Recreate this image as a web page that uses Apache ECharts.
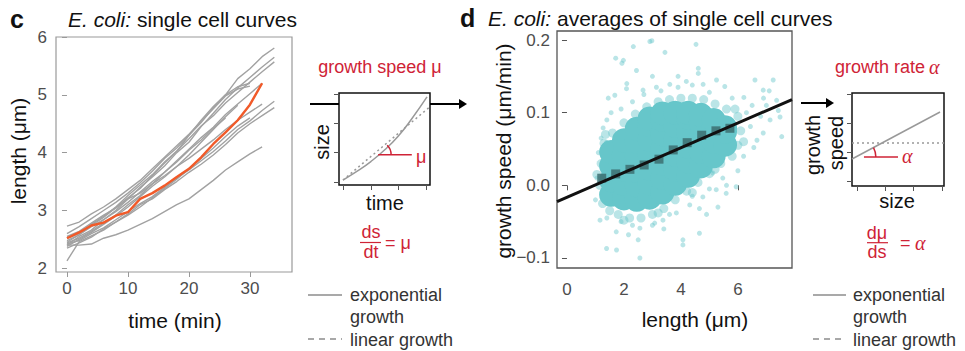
<!DOCTYPE html>
<html>
<head>
<meta charset="utf-8">
<script src="https://cdn.jsdelivr.net/npm/echarts@6/dist/echarts.min.js"></script>
<style>
html,body{margin:0;padding:0;background:#fff;}
#chart{width:965px;height:351px;}
</style>
</head>
<body>
<div id="chart"></div>
<script>
// panel c: single cell length curves, sampled every 2 min
var cellTimes = [0, 2, 4, 6, 8, 10, 12, 14, 16, 18, 20, 22, 24, 26, 28, 30, 32, 34];
var cellLengths = [
    [2.45, 2.58, 2.74, 2.88, 3.05, 3.22, 3.38, 3.60, 3.82, 4.02, 4.30, 4.52, 4.78, 5.00, 5.28, 5.45, 5.66, 5.81],
    [2.40, 2.55, 2.66, 2.84, 3.00, 3.20, 3.40, 3.58, 3.77, 4.00, 4.18, 4.45, 4.68, 4.92, 5.12, 5.30, 5.48, 5.65],
    [2.52, 2.60, 2.76, 2.90, 3.06, 3.26, 3.44, 3.62, 3.84, 4.03, 4.24, 4.46, 4.64, 4.86, 5.04, 5.22, 5.40, 5.57],
    [2.73, 2.80, 2.94, 3.06, 3.20, 3.36, 3.52, 3.72, 3.92, 4.12, 4.32, 4.54, 4.76, 4.98, 5.10, 5.15],
    [2.42, 2.48, 2.60, 2.70, 2.84, 2.98, 3.12, 3.24, 3.40, 3.56, 3.70, 3.86, 4.02, 4.20, 4.40, 4.55, 4.73, 4.89],
    [2.35, 2.44, 2.54, 2.68, 2.80, 2.94, 3.10, 3.20, 3.36, 3.50, 3.66, 3.80, 3.96, 4.14, 4.34, 4.50, 4.64, 4.78],
    [2.55, 2.64, 2.78, 2.92, 3.04, 3.20, 3.30, 3.46, 3.60, 3.76, 3.90, 4.06, 4.22, 4.40, 4.56, 4.70, 4.84],
    [2.40, 2.40, 2.42, 2.52, 2.58, 2.66, 2.76, 2.86, 2.98, 3.10, 3.20, 3.36, 3.52, 3.70, 3.84, 3.98, 4.10],
    [2.13, 2.46, 2.56, 2.66, 2.80, 2.92, 3.06, 3.22, 3.38, 3.54, 3.72, 3.90, 4.08, 4.28, 4.46, 4.60],
    [2.60, 2.72, 2.86, 3.00, 3.14, 3.30, 3.48, 3.68, 3.90, 4.08, 4.30, 4.56, 4.80, 5.00, 5.14, 5.20],
    [2.48, 2.58, 2.72, 2.84, 2.98, 3.14, 3.32, 3.50, 3.66, 3.86, 4.06, 4.26, 4.44, 4.66, 4.84, 5.02, 5.20],
    [2.38, 2.50, 2.62, 2.76, 2.90, 3.06, 3.24, 3.42, 3.58, 3.76, 3.96, 4.18, 4.40, 4.62, 4.82],
    [2.44, 2.52, 2.64, 2.78, 2.92, 3.10, 3.26, 3.46, 3.66, 3.84, 4.04, 4.22, 4.42, 4.60]
];
var highlightCell = [2.52, 2.62, 2.74, 2.79, 2.91, 2.97, 3.20, 3.30, 3.43, 3.58, 3.72, 3.92, 4.15, 4.35, 4.56, 4.83, 5.20];
var cTimeTicks = [0, 10, 20, 30];
var cLengthTicks = [2, 3, 4, 5, 6];

// panel d: growth speed vs length cloud
var cloudCore = [
    [1.55, -0.013], [1.55, 0.007], [1.55, 0.027], [1.55, 0.046],
    [2.0, -0.018], [2.0, 0.002], [2.0, 0.022], [2.0, 0.042], [2.0, 0.062],
    [2.45, -0.02], [2.45, 0.0], [2.45, 0.02], [2.45, 0.04], [2.45, 0.06], [2.45, 0.078],
    [2.9, -0.017], [2.9, 0.003], [2.9, 0.023], [2.9, 0.043], [2.9, 0.063], [2.9, 0.083], [2.9, 0.092],
    [3.35, -0.01], [3.35, 0.01], [3.35, 0.03], [3.35, 0.05], [3.35, 0.07], [3.35, 0.09], [3.35, 0.099],
    [3.8, 0.002], [3.8, 0.022], [3.8, 0.042], [3.8, 0.062], [3.8, 0.082], [3.8, 0.1],
    [4.25, 0.013], [4.25, 0.033], [4.25, 0.053], [4.25, 0.073], [4.25, 0.093], [4.25, 0.1],
    [4.7, 0.026], [4.7, 0.046], [4.7, 0.066], [4.7, 0.086], [4.7, 0.097],
    [5.15, 0.04], [5.15, 0.06], [5.15, 0.08], [5.15, 0.09],
    [5.55, 0.056], [5.55, 0.074], [5.55, 0.08]
];
var cloudHalo = [
    [1.2, 0.03], [1.15, 0.0], [1.25, -0.025], [1.5, -0.035], [1.8, -0.04], [2.2, -0.045], [2.6, -0.045],
    [3.0, -0.04], [3.4, -0.032], [3.8, -0.02], [4.2, -0.008], [4.6, 0.004], [5.0, 0.016], [5.4, 0.03],
    [5.8, 0.04], [6.0, 0.055], [6.1, 0.075], [6.0, 0.095], [5.6, 0.105], [5.2, 0.112], [4.8, 0.118],
    [4.4, 0.12], [4.0, 0.12], [3.6, 0.118], [3.2, 0.115], [2.8, 0.108], [2.4, 0.098], [2.0, 0.086],
    [1.6, 0.072], [1.3, 0.058], [1.05, 0.015], [1.35, 0.07], [6.2, 0.06], [5.9, 0.105], [2.0, -0.048],
    [3.2, -0.038], [4.4, -0.01], [5.2, 0.022]
];
var cloudOutliers = [
    [2.91, 0.198], [2.98, 0.199], [2.33, 0.191], [4.53, 0.194], [3.44, 0.183], [1.71, 0.175], [1.98, 0.172],
    [1.93, 0.168], [2.44, 0.158], [4.61, 0.161], [4.61, 0.154], [1.45, 0.12], [1.68, 0.124], [2.09, 0.133],
    [2.67, 0.131], [3.14, 0.135], [3.61, 0.139], [4.19, 0.143], [4.78, 0.139], [5.25, 0.145], [5.54, 0.136],
    [6.6, 0.145], [7.24, 0.145], [6.89, 0.131], [7.36, 0.117], [7.42, 0.103], [7.48, 0.094], [7.13, 0.09],
    [7.54, 0.067], [6.89, 0.072], [1.27, 0.079], [1.39, 0.059], [1.16, -0.048], [1.39, -0.087], [1.74, -0.089],
    [2.56, -0.1], [1.73, -0.064], [2.16, -0.068], [2.56, -0.059], [3.08, -0.052], [3.37, -0.048], [4.07, -0.075],
    [4.07, -0.082], [4.65, -0.066], [3.84, -0.038], [4.31, -0.027], [4.65, -0.032], [4.77, -0.016], [5.24, -0.006],
    [5.59, -0.011], [5.94, -0.002], [5.47, 0.01], [5.12, 0.017], [6.44, 0.081], [6.67, 0.062], [6.56, 0.052],
    [6.21, 0.121], [1.05, 0.01], [1.0, -0.02], [1.1, 0.045], [1.2, 0.065], [1.4, 0.09], [1.9, 0.105], [2.3, 0.115],
    [2.7, 0.125], [3.3, 0.13], [3.9, 0.135], [4.4, 0.138], [5.0, 0.128], [5.8, 0.12], [6.3, 0.1], [6.5, 0.11],
    [6.8, 0.095], [7.0, 0.11], [6.2, 0.04], [6.0, 0.02], [5.6, 0.0], [5.0, -0.005], [4.4, -0.015], [3.6, -0.04],
    [3.0, -0.055], [2.3, -0.055], [1.9, -0.05], [1.4, -0.045], [6.9, 0.12], [7.1, 0.13], [1.55, 0.1], [2.1, 0.14],
    [3.0, 0.15], [3.9, 0.15], [2.5, -0.075], [3.4, -0.06], [4.9, -0.04], [5.3, -0.03]
];
var binLength = [1.22, 1.71, 2.21, 2.71, 3.23, 3.73, 4.22, 4.73, 5.23, 5.72];
var binSpeed = [0.0098, 0.0157, 0.022, 0.028, 0.036, 0.0487, 0.0587, 0.069, 0.075, 0.0785];
var fitLine = [[-0.35, -0.0223], [7.9, 0.118]];
var dLengthTicks = [0, 2, 4, 6];
var dSpeedTicks = [-0.1, 0, 0.1, 0.2];

// schematics (arbitrary units 0..1)
var speedSchemX = [0.044, 0.2, 0.35, 0.5, 0.65, 0.8, 0.967];
var speedSchemExp = [0.054, 0.15, 0.255, 0.38, 0.53, 0.72, 0.957];
var speedSchemLin = [[0.044, 0.054], [1.0, 0.851]];
var speedTangent = [[0.43, 0.33], [0.8, 0.33]];
var speedTicksX = [0.044, 0.352, 0.648, 0.956];
var speedTicksY = [0.033, 0.36, 0.674, 0.99];
var rateSolid = [[0, 0.29], [0.957, 0.796]];
var rateDotted = [[0, 0.462], [1, 0.462]];
var rateTangent = [[0.13, 0.312], [0.5, 0.312]];
var rateTicksX = [0.054, 0.359, 0.663, 0.978];
var rateTicksY = [0.054, 0.366, 0.677, 0.989];

var FONT = '"Liberation Sans", Arial, sans-serif';
var SERIF = '"Liberation Serif", serif';
var RED = '#cf2336';
var TEAL = '#66c6ca';

var chart = echarts.init(document.getElementById('chart'), null, {renderer: 'svg'});

function pairs(vals) {
    return vals.map(function (v, i) { return [cellTimes[i], v]; });
}

function axis(gi, min, max, ticks, tickColor, labels, margin, fmt) {
    return {
        gridIndex: gi, type: 'value', min: min, max: max,
        axisLine: {show: false}, splitLine: {show: false},
        axisTick: {show: true, length: 5, customValues: ticks, lineStyle: {color: tickColor, width: 1}},
        axisLabel: {
            show: labels, customValues: ticks, color: '#4d4d4d', fontSize: 17, fontFamily: FONT,
            margin: margin, formatter: fmt
        }
    };
}

function speedFmt(v) {
    var s = Math.abs(v).toFixed(1);
    return v < -1e-9 ? '\u2212' + s : s;
}

var series = [];
cellLengths.forEach(function (c) {
    series.push({type: 'line', xAxisIndex: 0, yAxisIndex: 0, data: pairs(c), symbol: 'none',
        lineStyle: {color: '#a2a2a2', width: 1.4}});
});
series.push({type: 'line', xAxisIndex: 0, yAxisIndex: 0, data: pairs(highlightCell), symbol: 'none',
    lineStyle: {color: '#f15a29', width: 2.4}});

// schematic 1
series.push({type: 'line', xAxisIndex: 1, yAxisIndex: 1, smooth: true, symbol: 'none',
    data: speedSchemX.map(function (x, i) { return [x, speedSchemExp[i]]; }),
    lineStyle: {color: '#999', width: 1.5}});
series.push({type: 'line', xAxisIndex: 1, yAxisIndex: 1, symbol: 'none', data: speedSchemLin,
    lineStyle: {color: '#999', width: 1.5, type: [2, 3]}});
series.push({type: 'line', xAxisIndex: 1, yAxisIndex: 1, symbol: 'none', data: speedTangent,
    lineStyle: {color: RED, width: 1.5}});

// panel d
series.push({type: 'scatter', xAxisIndex: 2, yAxisIndex: 2, data: cloudOutliers, symbolSize: 5,
    itemStyle: {color: TEAL, opacity: 0.45}});
series.push({type: 'scatter', xAxisIndex: 2, yAxisIndex: 2, data: cloudHalo, symbolSize: 9,
    itemStyle: {color: TEAL, opacity: 0.45}});
series.push({type: 'scatter', xAxisIndex: 2, yAxisIndex: 2, data: cloudCore, symbolSize: 24,
    itemStyle: {color: TEAL, opacity: 1}});
series.push({type: 'line', xAxisIndex: 2, yAxisIndex: 2, data: fitLine, symbol: 'none',
    lineStyle: {color: '#111', width: 3}});
series.push({type: 'scatter', xAxisIndex: 2, yAxisIndex: 2, symbol: 'rect', symbolSize: 9,
    data: binLength.map(function (x, i) { return [x, binSpeed[i]]; }),
    itemStyle: {color: '#3c6f71', opacity: 0.85}});

// schematic 2
series.push({type: 'line', xAxisIndex: 3, yAxisIndex: 3, symbol: 'none', data: rateSolid,
    lineStyle: {color: '#999', width: 1.5}});
series.push({type: 'line', xAxisIndex: 3, yAxisIndex: 3, symbol: 'none', data: rateDotted,
    lineStyle: {color: '#999', width: 1.5, type: [2, 3]}});
series.push({type: 'line', xAxisIndex: 3, yAxisIndex: 3, symbol: 'none', data: rateTangent,
    lineStyle: {color: RED, width: 1.5}});

function txt(text, x, y, size, opt) {
    opt = opt || {};
    return {
        type: 'text', x: x, y: y, rotation: opt.rot || 0, z: 100,
        style: {
            text: text, fill: opt.color || '#111',
            font: (opt.style || 'normal') + ' ' + (opt.weight || 'normal') + ' ' + size + 'px ' + (opt.family || FONT),
            textAlign: opt.align || 'center', textVerticalAlign: 'middle'
        }
    };
}
function seg(x1, y1, x2, y2, color, width, dash) {
    return {type: 'line', z: 100, shape: {x1: x1, y1: y1, x2: x2, y2: y2},
        style: {stroke: color, lineWidth: width, lineDash: dash || null}};
}
function head(x, y) {
    return {type: 'polygon', z: 100, shape: {points: [[x - 8, y - 5], [x, y], [x - 8, y + 5]]},
        style: {fill: '#000'}};
}

var R = Math.PI / 2;

var graphics = [
    txt('c', 10, 19, 25, {weight: 'bold', align: 'left'}),
    txt('E. coli:', 68, 19, 21, {align: 'left', style: 'italic'}),
    txt('single cell curves', 137, 19, 21, {align: 'left'}),
    txt('length (\u03bcm)', 18, 151, 21, {rot: R}),
    txt('time (min)', 175, 320, 21),

    txt('growth speed \u03bc', 380, 67, 18, {color: RED}),
    txt('size', 322, 142, 20, {rot: R}),
    txt('time', 385, 203, 20),
    txt('\u03bc', 416, 157, 18, {color: RED, align: 'left'}),
    txt('ds', 371, 232, 18, {color: RED}),
    seg(360, 242.5, 381, 242.5, RED, 1.2),
    txt('dt', 371, 252, 18, {color: RED}),
    txt('= \u03bc', 385, 243, 18, {color: RED, align: 'left'}),
    seg(310, 104, 339, 104, '#000', 2),
    seg(430, 104, 462, 104, '#000', 2),
    head(467, 104),

    seg(308, 295, 342, 295, '#8c8c8c', 1.5),
    txt('exponential', 350, 295, 18, {align: 'left', color: '#333'}),
    txt('growth', 350, 317, 18, {align: 'left', color: '#333'}),
    seg(308, 339, 342, 339, '#8c8c8c', 1.5, [6, 5]),
    txt('linear growth', 350, 340, 18, {align: 'left', color: '#333'}),

    txt('d', 460, 18, 25, {weight: 'bold', align: 'left'}),
    txt('E. coli:', 488, 18, 21, {align: 'left', style: 'italic'}),
    txt('averages of single cell curves', 557, 18, 21, {align: 'left'}),
    txt('growth speed (\u03bcm/min)', 503, 151, 21, {rot: R}),
    txt('length (\u03bcm)', 695, 319, 21),

    txt('growth rate', 835, 67, 18, {color: RED, align: 'left'}),
    txt('\u03b1', 929, 67, 20, {color: RED, align: 'left', family: SERIF, style: 'italic'}),
    txt('growth', 813, 145, 20, {rot: R}),
    txt('speed', 836, 143, 20, {rot: R}),
    seg(801, 103, 828, 103, '#000', 2),
    head(834, 103),
    txt('size', 897, 201, 20),
    txt('\u03b1', 902, 156, 20, {color: RED, align: 'left', family: SERIF, style: 'italic'}),
    txt('d\u03bc', 877, 233, 18, {color: RED}),
    seg(867, 242.7, 888, 242.7, RED, 1.2),
    txt('ds', 877, 252, 18, {color: RED}),
    txt('=', 900, 243, 18, {color: RED, align: 'left'}),
    txt('\u03b1', 915, 243, 20, {color: RED, align: 'left', family: SERIF, style: 'italic'}),

    seg(813, 295, 846, 295, '#8c8c8c', 1.5),
    txt('exponential', 853, 295, 18, {align: 'left', color: '#333'}),
    txt('growth', 853, 317, 18, {align: 'left', color: '#333'}),
    seg(813, 339, 846, 339, '#8c8c8c', 1.5, [6, 5]),
    txt('linear growth', 853, 340, 18, {align: 'left', color: '#333'})
];

var option = {
    animation: false,
    backgroundColor: '#fff',
    grid: [
        {left: 56, top: 37, width: 236, height: 235, show: true, borderColor: '#9a9a9a', borderWidth: 1.2, backgroundColor: '#fff'},
        {left: 339, top: 93, width: 91, height: 92, show: true, borderColor: '#111', borderWidth: 1.5, backgroundColor: '#fff'},
        {left: 557, top: 31, width: 235, height: 237, show: true, borderColor: '#555', borderWidth: 1.3, backgroundColor: '#fff'},
        {left: 852, top: 93, width: 92, height: 93, show: true, borderColor: '#111', borderWidth: 1.5, backgroundColor: '#fff'}
    ],
    xAxis: [
        axis(0, -1.8, 36.9, cTimeTicks, '#999', true, 8),
        axis(1, 0, 1, speedTicksX, '#555', false, 8),
        axis(2, -0.35, 7.9, dLengthTicks, '#555', true, 13),
        axis(3, 0, 1, rateTicksX, '#555', false, 8)
    ],
    yAxis: [
        axis(0, 1.936, 6.0, cLengthTicks, '#999', true, 9),
        axis(1, 0, 1, speedTicksY, '#555', false, 8),
        axis(2, -0.1138, 0.2124, dSpeedTicks, '#555', true, 7, speedFmt),
        axis(3, 0, 1, rateTicksY, '#555', false, 8)
    ],
    series: series,
    graphic: graphics
};
chart.setOption(option);

// angle arcs at the tangent points, placed with the schematic scales
var p1 = chart.convertToPixel({gridIndex: 1}, speedTangent[0]);
var p2 = chart.convertToPixel({gridIndex: 3}, [0.042, rateTangent[0][1]]);
graphics.push({type: 'arc', z: 100, shape: {cx: p1[0], cy: p1[1], r: 13, startAngle: -0.8, endAngle: 0, clockwise: true},
    style: {stroke: RED, lineWidth: 1.5, fill: null}});
graphics.push({type: 'arc', z: 100, shape: {cx: p2[0], cy: p2[1], r: 20, startAngle: -0.49, endAngle: 0, clockwise: true},
    style: {stroke: RED, lineWidth: 1.5, fill: null}});
chart.setOption({graphic: graphics});
</script>
</body>
</html>
